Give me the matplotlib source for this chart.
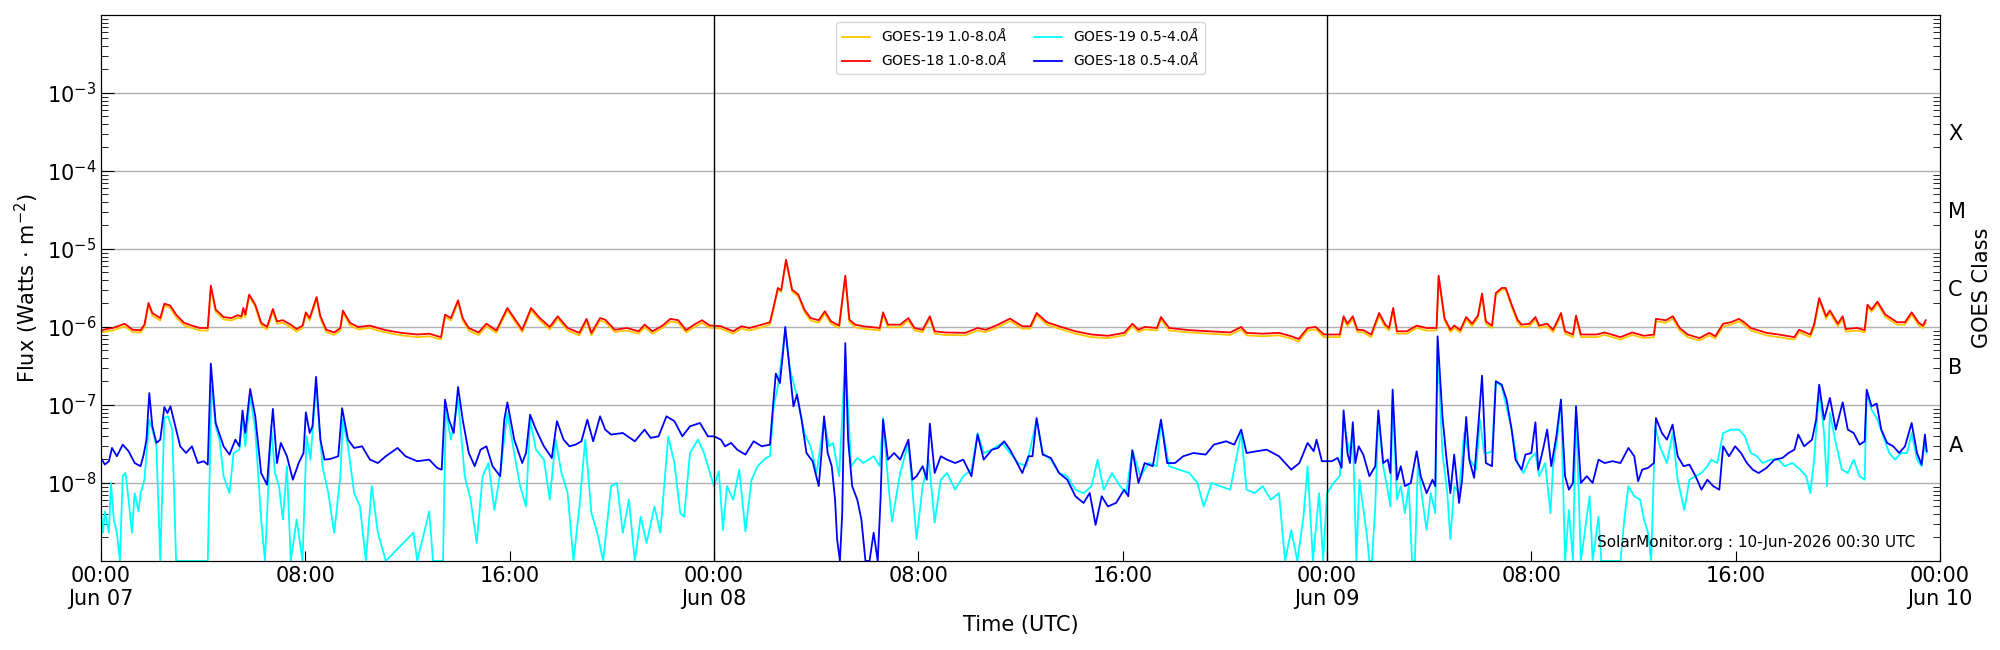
import numpy as np
import matplotlib.pyplot as plt

# GOES X-ray flux, hours since 2026-06-07 00:00 UTC
# long channel (1.0-8.0 A) values in 1e-6 W/m^2
t_long_d1 = [0.0, 0.46, 0.93, 1.24, 1.55, 1.70, 1.86, 2.01, 2.32, 2.48,
             2.71, 2.94, 3.25, 3.56, 3.87, 4.18, 4.30, 4.49, 4.80, 5.11,
             5.34, 5.50, 5.57, 5.65, 5.80, 6.04, 6.27, 6.50, 6.73, 6.89,
             7.12, 7.43, 7.66, 7.89, 8.02, 8.17, 8.44, 8.59, 8.82, 9.13,
             9.37, 9.47, 9.75, 10.06, 10.53, 10.84, 11.15, 11.76, 12.38, 12.85,
             13.31, 13.47, 13.70, 13.98, 14.16, 14.40, 14.78, 15.09, 15.48, 15.91,
             16.18, 16.49, 16.84, 17.18, 17.57, 17.88, 18.27, 18.73, 19.01, 19.20,
             19.54, 19.74, 20.12, 20.59, 21.05, 21.28, 21.59, 21.98, 22.29, 22.60,
             22.91, 23.22, 23.53, 23.84]
g18_long_d1 = [0.91, 0.97, 1.10, 0.92, 0.91, 1.07, 2.03, 1.51, 1.30, 1.99,
               1.88, 1.44, 1.13, 1.04, 0.97, 0.97, 3.39, 1.67, 1.34, 1.30,
               1.41, 1.37, 1.75, 1.44, 2.60, 1.93, 1.13, 1.0, 1.70, 1.18,
               1.22, 1.07, 0.94, 1.04, 1.54, 1.30, 2.42, 1.37, 0.92, 0.85,
               0.97, 1.62, 1.13, 1.0, 1.04, 0.97, 0.91, 0.84, 0.80, 0.82,
               0.74, 1.44, 1.30, 2.20, 1.30, 0.97, 0.85, 1.10, 0.90, 1.75,
               1.30, 0.92, 1.75, 1.30, 1.0, 1.37, 0.97, 0.84, 1.27, 0.84,
               1.30, 1.24, 0.92, 0.97, 0.88, 1.07, 0.88, 1.04, 1.27, 1.22,
               0.91, 1.07, 1.22, 1.04]
g19_long_d1 = [0.85, 0.90, 1.02, 0.86, 0.85, 0.99, 1.92, 1.40, 1.21, 1.88,
               1.76, 1.34, 1.05, 0.97, 0.90, 0.90, 3.25, 1.56, 1.25, 1.21,
               1.31, 1.28, 1.64, 1.34, 2.47, 1.80, 1.05, 0.93, 1.59, 1.10,
               1.13, 0.99, 0.87, 0.97, 1.44, 1.21, 2.30, 1.27, 0.86, 0.79,
               0.90, 1.52, 1.05, 0.93, 0.97, 0.90, 0.85, 0.78, 0.74, 0.76,
               0.69, 1.35, 1.21, 2.08, 1.21, 0.90, 0.79, 1.02, 0.84, 1.64,
               1.21, 0.86, 1.64, 1.21, 0.93, 1.27, 0.90, 0.78, 1.18, 0.78,
               1.21, 1.15, 0.86, 0.90, 0.82, 0.99, 0.82, 0.97, 1.18, 1.13,
               0.85, 0.99, 1.13, 0.97]

t_long_d2 = [24.0, 24.27, 24.75, 25.07, 25.39, 25.87, 26.19, 26.34, 26.50, 26.63,
             26.82, 27.06, 27.30, 27.54, 27.78, 28.10, 28.34, 28.58, 28.90, 29.14,
             29.30, 29.53, 29.85, 30.49, 30.62, 30.81, 31.29, 31.61, 31.85, 32.17,
             32.45, 32.64, 33.04, 33.84, 34.32, 34.64, 35.12, 35.59, 36.07, 36.39,
             36.63, 37.03, 37.51, 38.15, 38.78, 39.42, 40.06, 40.38, 40.62, 40.86,
             41.34, 41.50, 41.82, 42.61, 43.41, 44.21, 44.64, 44.85, 45.48, 46.12,
             46.60, 46.89, 47.24, 47.56, 47.88]
g18_long_d2 = [1.04, 1.02, 0.88, 1.02, 0.97, 1.07, 1.15, 1.84, 3.16, 2.95,
               7.3, 3.0, 2.60, 1.67, 1.30, 1.22, 1.59, 1.18, 1.04, 4.55,
               1.24, 1.07, 1.02, 0.97, 1.54, 1.07, 1.07, 1.30, 0.97, 0.92,
               1.37, 0.88, 0.85, 0.84, 0.97, 0.92, 1.07, 1.28, 1.02, 1.02,
               1.51, 1.15, 1.02, 0.88, 0.80, 0.77, 0.84, 1.10, 0.92, 1.0,
               0.97, 1.34, 0.97, 0.91, 0.88, 0.85, 1.0, 0.84, 0.82, 0.84,
               0.76, 0.70, 0.97, 1.0, 0.80]
g19_long_d2 = [0.97, 0.95, 0.82, 0.95, 0.90, 0.99, 1.07, 1.74, 3.02, 2.80,
               7.0, 2.85, 2.45, 1.56, 1.21, 1.13, 1.48, 1.10, 0.97, 4.35,
               1.15, 0.99, 0.95, 0.90, 1.44, 0.99, 0.99, 1.21, 0.90, 0.86,
               1.28, 0.82, 0.79, 0.78, 0.90, 0.86, 0.99, 1.19, 0.95, 0.95,
               1.41, 1.07, 0.95, 0.82, 0.74, 0.72, 0.78, 1.02, 0.86, 0.93,
               0.90, 1.25, 0.90, 0.85, 0.82, 0.79, 0.93, 0.78, 0.76, 0.78,
               0.71, 0.65, 0.90, 0.93, 0.74]

t_long_d3 = [48.0, 48.50, 48.65, 48.80, 49.01, 49.19, 49.42, 49.73, 50.04, 50.28,
             50.43, 50.59, 50.74, 51.13, 51.51, 51.90, 52.29, 52.37, 52.60, 52.83,
             52.98, 53.22, 53.45, 53.68, 53.91, 54.07, 54.22, 54.46, 54.61, 54.84,
             55.0, 55.23, 55.46, 55.62, 55.93, 56.16, 56.31, 56.62, 56.85, 57.01,
             57.16, 57.32, 57.63, 57.75, 57.94, 58.56, 58.87, 59.49, 59.95, 60.41,
             60.80, 60.88, 61.27, 61.54, 61.81, 62.12, 62.58, 62.97, 63.20, 63.51,
             63.82, 64.13, 64.36, 64.59, 65.21, 65.68, 66.30, 66.48, 66.92, 67.07,
             67.27, 67.54, 67.69, 68.0, 68.19, 68.31, 68.77, 69.05, 69.16, 69.32,
             69.55, 69.86, 70.32, 70.63, 70.89, 71.17, 71.33, 71.44]
g18_long_d3 = [0.80, 0.80, 1.37, 1.10, 1.37, 0.92, 0.91, 0.80, 1.51, 1.07,
               0.97, 1.75, 0.88, 0.88, 1.04, 0.97, 0.97, 4.55, 1.30, 0.92,
               1.04, 0.91, 1.34, 1.10, 1.40, 2.67, 1.18, 1.04, 2.72, 3.16,
               3.16, 1.93, 1.24, 1.07, 1.10, 1.34, 1.04, 1.10, 0.92, 1.18,
               1.51, 0.88, 0.80, 1.40, 0.80, 0.80, 0.85, 0.74, 0.85, 0.77,
               0.80, 1.27, 1.22, 1.37, 0.97, 0.80, 0.72, 0.84, 0.76, 1.10,
               1.15, 1.27, 1.13, 0.97, 0.84, 0.80, 0.74, 0.92, 0.80, 1.07,
               2.35, 1.37, 1.63, 1.10, 1.37, 0.94, 0.97, 0.91, 1.93, 1.67,
               2.11, 1.44, 1.15, 1.15, 1.54, 1.13, 1.04, 1.22]
g19_long_d3 = [0.74, 0.74, 1.27, 1.02, 1.27, 0.86, 0.85, 0.74, 1.40, 0.99,
               0.90, 1.64, 0.82, 0.82, 0.97, 0.90, 0.90, 4.35, 1.21, 0.86,
               0.97, 0.85, 1.25, 1.02, 1.30, 2.52, 1.10, 0.97, 2.58, 3.0,
               3.0, 1.80, 1.15, 0.99, 1.02, 1.25, 0.97, 1.02, 0.86, 1.10,
               1.40, 0.82, 0.74, 1.30, 0.74, 0.74, 0.79, 0.69, 0.79, 0.72,
               0.74, 1.18, 1.13, 1.27, 0.90, 0.74, 0.67, 0.78, 0.71, 1.02,
               1.07, 1.18, 1.05, 0.90, 0.78, 0.74, 0.69, 0.86, 0.74, 0.99,
               2.22, 1.27, 1.52, 1.02, 1.27, 0.87, 0.90, 0.85, 1.80, 1.56,
               1.98, 1.34, 1.07, 1.07, 1.44, 1.05, 0.97, 1.13]

# short channel (0.5-4.0 A) values in 1e-8 W/m^2
t_g18_short_d1 = [0.0, 0.15, 0.31, 0.43, 0.62, 0.85, 1.08, 1.32, 1.55, 1.67,
                  1.78, 1.89, 2.01, 2.17, 2.32, 2.48, 2.60, 2.72, 2.94, 3.10,
                  3.33, 3.56, 3.79, 4.02, 4.18, 4.30, 4.49, 4.80, 5.03, 5.26,
                  5.42, 5.54, 5.65, 5.84, 6.04, 6.27, 6.50, 6.63, 6.73, 6.89,
                  7.04, 7.28, 7.51, 7.74, 7.93, 8.02, 8.17, 8.28, 8.42, 8.59,
                  8.75, 8.98, 9.29, 9.44, 9.67, 9.91, 10.22, 10.53, 10.84, 11.15,
                  11.61, 11.92, 12.38, 12.85, 13.16, 13.34, 13.47, 13.62, 13.81, 13.98,
                  14.16, 14.40, 14.63, 14.86, 15.09, 15.33, 15.63, 15.79, 15.91, 16.18,
                  16.49, 16.64, 16.80, 17.03, 17.34, 17.65, 17.85, 18.11, 18.34, 18.58,
                  18.81, 19.04, 19.27, 19.54, 19.74, 19.97, 20.43, 20.90, 21.28, 21.52,
                  21.83, 22.14, 22.45, 22.76, 23.06, 23.45, 23.76]
g18_short_d1 = [2.09, 1.72, 1.90, 2.81, 2.20, 3.10, 2.55, 1.80, 1.64, 2.31,
                3.59, 14.2, 5.32, 3.26, 3.59, 9.4, 7.89, 9.6, 4.83, 2.95,
                2.42, 2.95, 1.80, 1.90, 1.72, 33.9, 5.87, 2.95, 2.31, 3.59,
                2.95, 8.5, 4.37, 16.0, 7.15, 1.34, 0.95, 3.59, 8.9, 1.80,
                3.26, 2.20, 1.10, 1.80, 2.42, 8.05, 4.37, 5.32, 22.9, 3.59,
                1.99, 2.03, 2.20, 9.1, 3.59, 2.81, 2.95, 1.99, 1.80, 2.20,
                2.81, 2.20, 1.90, 1.99, 1.56, 1.48, 11.7, 6.48, 4.37, 17.0,
                6.48, 2.42, 1.64, 2.67, 2.95, 1.64, 1.22, 6.48, 10.8, 3.59,
                1.80, 2.42, 7.5, 4.83, 2.95, 2.09, 6.2, 3.59, 2.95, 3.10,
                3.42, 6.48, 3.42, 7.15, 4.83, 4.17, 4.37, 3.42, 4.83, 3.78,
                3.96, 7.15, 6.2, 3.96, 5.32, 5.87, 3.96]

t_g19_short_d1 = [0.0, 0.08, 0.15, 0.23, 0.31, 0.39, 0.50, 0.62, 0.74, 0.85,
                  0.96, 1.08, 1.21, 1.32, 1.47, 1.55, 1.70, 1.89, 2.01, 2.17,
                  2.32, 2.48, 2.63, 2.79, 2.94, 4.18, 4.33, 4.49, 4.64, 4.80,
                  5.03, 5.19, 5.42, 5.54, 5.65, 5.84, 6.04, 6.27, 6.42, 6.66,
                  6.81, 6.97, 7.12, 7.28, 7.43, 7.66, 7.89, 8.05, 8.20, 8.42,
                  8.67, 8.90, 9.13, 9.37, 9.47, 9.67, 9.91, 10.14, 10.37, 10.60,
                  10.84, 11.15, 12.23, 12.38, 12.85, 13.0, 13.39, 13.50, 13.70, 13.98,
                  14.24, 14.47, 14.71, 14.94, 15.17, 15.40, 15.63, 15.91, 16.18, 16.41,
                  16.64, 16.80, 17.03, 17.34, 17.57, 17.80, 18.03, 18.27, 18.50, 18.73,
                  18.96, 19.20, 19.43, 19.66, 19.97, 20.20, 20.43, 20.67, 20.90, 21.13,
                  21.36, 21.67, 21.90, 22.21, 22.45, 22.68, 22.83, 23.06, 23.37, 23.61,
                  23.84]
g19_short_d1 = [0.41, 0.23, 0.43, 0.31, 0.23, 1.0, 0.34, 0.23, 0.1, 1.22,
                1.34, 0.61, 0.23, 0.74, 0.43, 0.74, 1.10, 6.48, 4.83, 2.95,
                0.1, 6.8, 7.15, 4.83, 0.1, 0.1, 17.3, 5.32, 3.59, 1.22,
                0.74, 2.42, 2.67, 7.15, 2.95, 12.9, 4.83, 0.34, 0.1, 5.32,
                1.34, 0.91, 0.34, 1.64, 0.1, 0.34, 0.1, 3.96, 1.99, 17.3,
                1.64, 0.74, 0.23, 1.22, 6.48, 2.95, 0.74, 0.50, 0.1, 0.91,
                0.23, 0.1, 0.23, 0.1, 0.43, 0.1, 0.1, 8.7, 3.59, 11.7,
                1.22, 0.61, 0.17, 1.22, 1.80, 0.45, 1.34, 7.89, 2.42, 0.91,
                0.50, 6.48, 2.67, 1.99, 0.61, 3.59, 1.34, 0.74, 0.1, 0.50,
                3.59, 0.41, 0.23, 0.1, 0.91, 1.0, 0.23, 0.61, 0.1, 0.37,
                0.17, 0.50, 0.23, 3.96, 1.80, 0.41, 0.37, 2.42, 3.59, 2.42,
                1.34]

t_g18_short_d2 = [24.0, 24.27, 24.43, 24.67, 24.91, 25.23, 25.55, 25.87, 26.19, 26.31,
                  26.42, 26.58, 26.70, 26.79, 26.95, 27.11, 27.25, 27.43, 27.62, 27.86,
                  28.10, 28.21, 28.31, 28.45, 28.61, 28.74, 28.82, 28.93, 29.02, 29.14,
                  29.25, 29.41, 29.61, 29.77, 29.93, 30.09, 30.25, 30.41, 30.52, 30.62,
                  30.81, 31.05, 31.29, 31.61, 31.77, 31.93, 32.17, 32.33, 32.45, 32.64,
                  32.88, 33.12, 33.44, 33.76, 34.08, 34.32, 34.56, 34.88, 35.12, 35.36,
                  35.59, 35.83, 36.07, 36.31, 36.47, 36.63, 36.87, 37.19, 37.51, 37.83,
                  38.15, 38.47, 38.71, 38.94, 39.18, 39.42, 39.74, 40.06, 40.22, 40.38,
                  40.62, 40.86, 41.18, 41.50, 41.74, 42.05, 42.37, 42.77, 43.25, 43.57,
                  44.05, 44.37, 44.64, 44.85, 45.24, 45.64, 46.12, 46.60, 46.92, 47.24,
                  47.48, 47.59, 47.80]
g18_short_d2 = [3.96, 3.59, 2.95, 3.26, 2.67, 2.31, 3.42, 2.95, 3.10, 9.6,
                25.3, 19.1, 46.5, 100, 31.2, 9.6, 13.6, 6.48, 2.42, 1.90,
                0.91, 2.42, 7.15, 2.42, 1.64, 0.61, 0.19, 0.1, 0.41, 62,
                3.59, 0.91, 0.61, 0.34, 0.1, 0.1, 0.23, 0.1, 0.61, 6.48,
                1.99, 2.42, 1.99, 3.59, 1.10, 1.22, 1.64, 1.10, 5.76, 1.34,
                2.20, 1.99, 1.80, 1.99, 1.22, 4.17, 1.99, 2.67, 2.81, 3.42,
                2.67, 1.90, 1.34, 2.20, 2.20, 6.8, 2.31, 2.09, 1.34, 1.10,
                0.675, 0.554, 0.744, 0.29, 0.675, 0.50, 0.554, 0.82, 0.675, 2.62,
                1.0, 1.80, 1.64, 6.48, 1.80, 1.80, 2.20, 2.42, 2.31, 3.10,
                3.42, 3.10, 4.83, 2.42, 2.55, 2.67, 2.20, 1.48, 1.80, 3.26,
                2.55, 3.59, 1.90]

t_g19_short_d2 = [24.0, 24.19, 24.35, 24.51, 24.75, 24.99, 25.23, 25.47, 25.71, 26.03,
                  26.19, 26.34, 26.50, 26.79, 26.98, 27.25, 27.54, 27.78, 28.02, 28.31,
                  28.50, 28.66, 28.90, 29.14, 29.37, 29.61, 29.85, 30.25, 30.49, 30.62,
                  30.81, 30.97, 31.29, 31.61, 31.77, 31.93, 32.17, 32.41, 32.64, 32.88,
                  33.12, 33.44, 33.76, 34.08, 34.32, 34.56, 34.88, 35.28, 35.59, 35.91,
                  36.23, 36.63, 36.87, 37.19, 37.51, 37.83, 38.15, 38.47, 38.78, 39.02,
                  39.26, 39.58, 39.90, 40.14, 40.38, 40.70, 41.02, 41.34, 41.50, 41.82,
                  42.22, 42.61, 42.93, 43.17, 43.49, 43.81, 44.21, 44.64, 44.85, 45.17,
                  45.48, 45.80, 46.12, 46.36, 46.60, 46.84, 47.08, 47.24, 47.45, 47.69,
                  47.85]
g19_short_d2 = [0.91, 1.41, 0.25, 0.91, 0.61, 1.48, 0.24, 1.10, 1.64, 2.09,
                2.20, 9.6, 17.3, 92, 28.3, 12.9, 4.37, 2.95, 1.34, 6.48,
                2.95, 3.26, 1.22, 42, 1.64, 2.09, 1.80, 2.20, 1.64, 6.8,
                1.10, 0.32, 1.34, 3.26, 0.82, 0.19, 0.91, 1.99, 0.31, 1.10,
                1.34, 0.82, 1.22, 1.48, 4.37, 2.42, 2.67, 3.26, 2.42, 1.80,
                1.64, 6.48, 2.42, 1.99, 1.34, 1.22, 0.82, 0.74, 0.91, 1.99,
                0.82, 1.34, 0.91, 0.74, 2.62, 1.22, 1.80, 1.64, 6.2, 1.64,
                1.48, 1.34, 1.0, 0.50, 1.0, 0.91, 0.82, 4.37, 0.82, 0.74,
                0.91, 0.61, 0.74, 0.1, 0.25, 0.1, 0.37, 1.64, 0.1, 0.74,
                0.1]

t_g18_short_d3 = [48.0, 48.19, 48.42, 48.57, 48.65, 48.80, 48.90, 49.01, 49.11, 49.24,
                  49.42, 49.66, 49.89, 50.01, 50.20, 50.38, 50.48, 50.57, 50.74, 50.89,
                  51.05, 51.28, 51.51, 51.67, 51.90, 52.13, 52.24, 52.33, 52.52, 52.67,
                  52.83, 52.98, 53.17, 53.29, 53.45, 53.57, 53.76, 53.94, 54.07, 54.22,
                  54.46, 54.61, 54.84, 55.03, 55.23, 55.38, 55.62, 55.77, 56.0, 56.16,
                  56.27, 56.47, 56.62, 56.78, 56.98, 57.16, 57.32, 57.47, 57.63, 57.75,
                  57.94, 58.17, 58.40, 58.63, 58.87, 59.18, 59.49, 59.80, 60.03, 60.18,
                  60.34, 60.57, 60.80, 60.88, 61.11, 61.31, 61.53, 61.73, 61.96, 62.19,
                  62.43, 62.66, 62.89, 63.12, 63.36, 63.51, 63.74, 63.98, 64.21, 64.44,
                  64.67, 64.90, 65.21, 65.52, 65.83, 66.07, 66.30, 66.45, 66.68, 66.99,
                  67.15, 67.27, 67.46, 67.69, 67.92, 68.19, 68.39, 68.62, 68.85, 69.05,
                  69.13, 69.32, 69.52, 69.70, 69.93, 70.17, 70.40, 70.63, 70.89, 71.10,
                  71.28, 71.41, 71.48]
g18_short_d3 = [1.90, 1.90, 2.09, 1.56, 8.5, 2.42, 1.80, 6.0, 1.80, 2.95,
                2.31, 1.22, 1.64, 8.5, 1.80, 1.99, 1.34, 15.7, 1.10, 1.64,
                0.91, 1.0, 2.55, 1.22, 0.74, 1.10, 0.91, 75.9, 7.15, 2.20,
                0.74, 2.31, 0.554, 1.10, 7.0, 1.99, 1.16, 6.35, 23.7, 1.80,
                1.64, 20.1, 18.2, 11.7, 4.83, 1.99, 1.48, 2.31, 2.42, 6.0,
                1.48, 2.81, 4.83, 1.64, 3.96, 11.7, 1.22, 0.82, 1.0, 9.6,
                1.0, 1.22, 1.0, 1.99, 1.80, 1.90, 1.80, 2.81, 2.20, 1.05,
                1.48, 1.56, 1.80, 6.8, 4.37, 3.59, 5.6, 2.20, 1.64, 1.72,
                1.22, 0.82, 1.10, 0.91, 0.82, 2.95, 2.20, 2.95, 2.42, 1.80,
                1.48, 1.34, 1.56, 1.99, 2.09, 2.42, 2.67, 4.17, 2.95, 3.59,
                6.48, 18.2, 6.48, 12.3, 4.83, 10.8, 4.83, 4.37, 3.10, 3.42,
                15.7, 9.6, 10.4, 4.83, 3.26, 2.95, 2.42, 2.95, 5.87, 2.42,
                1.72, 4.17, 2.55]

t_g19_short_d3 = [48.0, 48.26, 48.50, 48.65, 48.88, 49.01, 49.15, 49.27, 49.39, 49.55,
                  49.66, 49.76, 49.89, 50.01, 50.20, 50.35, 50.48, 50.57, 50.74, 50.89,
                  51.05, 51.20, 51.33, 51.44, 51.56, 51.75, 51.90, 52.06, 52.24, 52.33,
                  52.52, 52.71, 52.83, 52.98, 53.17, 53.37, 53.60, 53.84, 53.99, 54.15,
                  54.30, 54.46, 54.61, 54.84, 55.23, 55.46, 55.69, 55.93, 56.16, 56.31,
                  56.54, 56.75, 56.85, 57.01, 57.16, 57.32, 57.47, 57.63, 57.75, 57.94,
                  58.28, 58.40, 58.63, 58.74, 59.49, 59.64, 59.80, 60.03, 60.26, 60.41,
                  60.57, 60.69, 60.85, 61.03, 61.31, 61.53, 61.73, 61.99, 62.19, 62.43,
                  62.66, 62.89, 63.05, 63.28, 63.51, 63.82, 64.13, 64.36, 64.59, 64.83,
                  65.06, 65.37, 65.68, 65.91, 66.22, 66.53, 66.76, 66.92, 67.07, 67.27,
                  67.46, 67.58, 67.69, 67.92, 68.16, 68.39, 68.62, 68.85, 69.05, 69.13,
                  69.32, 69.55, 69.78, 70.01, 70.24, 70.47, 70.71, 70.89, 71.10, 71.28,
                  71.41, 71.48]
g19_short_d3 = [0.74, 1.0, 1.22, 6.48, 2.42, 4.37, 0.1, 1.10, 0.554, 0.23,
                0.1, 0.1, 0.50, 7.15, 1.64, 0.91, 0.50, 11.7, 0.61, 0.91,
                0.41, 0.91, 0.1, 0.1, 1.80, 0.554, 0.25, 0.74, 0.41, 56.6,
                2.42, 0.74, 0.19, 0.91, 0.74, 4.37, 1.99, 1.48, 6.48, 2.42,
                2.42, 2.55, 20.1, 17.3, 4.83, 1.80, 1.34, 1.99, 2.42, 1.22,
                1.80, 0.41, 1.64, 3.59, 11.7, 0.1, 0.45, 0.1, 9.6, 0.1,
                0.675, 0.1, 0.37, 0.1, 0.1, 0.34, 0.91, 0.675, 0.61, 0.34,
                0.23, 0.1, 5.32, 2.95, 1.80, 4.37, 1.10, 0.45, 1.10, 1.22,
                1.34, 1.64, 1.99, 1.80, 4.37, 4.83, 4.83, 3.96, 2.42, 2.20,
                1.80, 1.99, 1.99, 1.64, 1.80, 1.48, 1.22, 0.74, 1.99, 15.7,
                4.37, 0.91, 7.89, 3.26, 1.48, 1.34, 1.99, 1.22, 1.10, 14.2,
                8.7, 6.48, 3.96, 2.42, 1.99, 2.42, 2.42, 4.37, 1.99, 1.64,
                3.26, 2.42]

x_ticks = [0, 8, 16, 24, 32, 40, 48, 56, 64, 72]
x_ticklabels = ['00:00\nJun 07', '08:00', '16:00', '00:00\nJun 08', '08:00', '16:00',
                '00:00\nJun 09', '08:00', '16:00', '00:00\nJun 10']
class_names = ['A', 'B', 'C', 'M', 'X']
class_pos = [10**-7.5, 10**-6.5, 10**-5.5, 10**-4.5, 10**-3.5]

t_long = np.concatenate([t_long_d1, t_long_d2, t_long_d3])
g18_long = np.concatenate([g18_long_d1, g18_long_d2, g18_long_d3]) * 1e-6
g19_long = np.concatenate([g19_long_d1, g19_long_d2, g19_long_d3]) * 1e-6
t18s = np.concatenate([t_g18_short_d1, t_g18_short_d2, t_g18_short_d3])
g18_short = np.concatenate([g18_short_d1, g18_short_d2, g18_short_d3]) * 1e-8
t19s = np.concatenate([t_g19_short_d1, t_g19_short_d2, t_g19_short_d3])
g19_short = np.concatenate([g19_short_d1, g19_short_d2, g19_short_d3]) * 1e-8

fig = plt.figure(figsize=(20, 6.5), dpi=100)
ax = fig.add_axes([0.0505, 0.137, 0.9195, 0.840])

ax.plot(t_long, g19_long, color='#ffc400', lw=1.3, label=r'GOES-19 1.0-8.0$\AA$')
ax.plot(t_long, g18_long, color='#ff0000', lw=1.3, label=r'GOES-18 1.0-8.0$\AA$')
ax.plot(t19s, g19_short, color='#00ffff', lw=1.3, label=r'GOES-19 0.5-4.0$\AA$')
ax.plot(t18s, g18_short, color='#0000ff', lw=1.3, label=r'GOES-18 0.5-4.0$\AA$')

for d in [24, 48]:
    ax.axvline(d, color='black', lw=1)

ax.set_yscale('log')
ax.set_ylim(1e-9, 1e-2)
ax.set_xlim(0, 72)
ax.set_yticks([1e-8, 1e-7, 1e-6, 1e-5, 1e-4, 1e-3])
ax.yaxis.grid(True, which='major', color='#b0b0b0', lw=1)
ax.set_xticks(x_ticks)
ax.set_xticklabels(x_ticklabels)
ax.tick_params(axis='both', which='both', direction='in', labelsize=15)
ax.tick_params(axis='y', which='major', length=9)
ax.tick_params(axis='y', which='minor', length=5)
ax.tick_params(axis='x', which='major', length=7)
ax.set_xlabel('Time (UTC)', fontsize=15)
ax.set_ylabel(r'Flux (Watts $\cdot$ m$^{-2}$)', fontsize=15)

ax2 = ax.twinx()
ax2.set_yscale('log')
ax2.set_ylim(1e-9, 1e-2)
ax2.set_yticks(class_pos)
ax2.set_yticklabels(class_names)
ax2.tick_params(axis='y', which='major', length=0, labelsize=15, pad=6)
ax2.tick_params(axis='y', which='minor', direction='in', length=5)
ax2.set_ylabel('GOES Class', fontsize=15)

ax.legend(loc='upper center', ncol=2, fontsize=10)
ax.text(0.9865, 0.033, 'SolarMonitor.org : 10-Jun-2026 00:30 UTC', transform=ax.transAxes,
        ha='right', va='center', fontsize=11)

fig.savefig('out.png', dpi=100)
